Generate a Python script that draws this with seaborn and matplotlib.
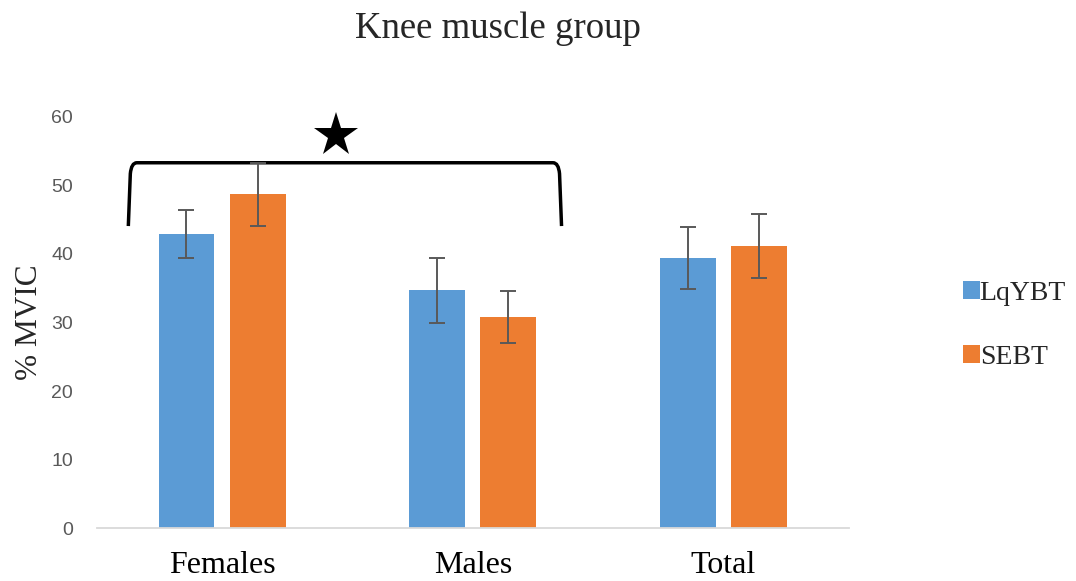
import numpy as np
import pandas as pd
import matplotlib
matplotlib.use("Agg")
import matplotlib.pyplot as plt
from matplotlib.path import Path
from matplotlib.patches import PathPatch, Patch
import seaborn as sns

# data
groups = ["Females", "Males", "Total"]
tests = ["LqYBT", "SEBT"]
lqybt_mean = [42.9, 34.7, 39.4]
lqybt_err = [3.5, 4.7, 4.5]
sebt_mean = [48.7, 30.8, 41.1]
sebt_err = [4.6, 3.85, 4.65]
yticks = [0, 10, 20, 30, 40, 50, 60]

colors = {"LqYBT": "#5B9BD5", "SEBT": "#ED7D31"}
serif = ["Liberation Serif", "DejaVu Serif"]

df = pd.DataFrame({
    "group": groups * 2,
    "test": ["LqYBT"] * 3 + ["SEBT"] * 3,
    "mvic": lqybt_mean + sebt_mean,
    "err": lqybt_err + sebt_err,
})

sns.set_style("white")
plt.rcParams["font.family"] = ["Liberation Sans", "DejaVu Sans"]

fig = plt.figure(figsize=(10.76, 5.81), dpi=100)
ax = fig.add_axes([0.0899, 0.0904, 0.699, 0.709])

sns.barplot(data=df, x="group", y="mvic", hue="test", order=groups,
            hue_order=tests, palette=colors, saturation=1, width=0.568,
            gap=0.215, errorbar=None, linewidth=0, legend=False, ax=ax)

# error bars at bar centres
for i, t in enumerate(tests):
    sub = df[df["test"] == t].set_index("group").loc[groups]
    xs = [p.get_x() + p.get_width() / 2 for p in ax.containers[i]]
    ax.errorbar(xs, sub["mvic"], yerr=sub["err"], fmt="none",
                ecolor="#595959", elinewidth=1.4, capsize=5.5, capthick=1.4,
                zorder=3)

ax.set_xlim(-0.5, 2.5)
ax.set_ylim(0, 60)
ax.set_yticks(yticks)
ax.tick_params(axis="y", labelsize=14, labelcolor="#595959", length=0, pad=17)
ax.tick_params(axis="x", length=0, pad=16)
for lab in ax.get_xticklabels():
    lab.set_fontfamily(serif)
    lab.set_fontsize(23)
    lab.set_color("black")
ax.set_xlabel("")
ax.set_ylabel("% MVIC", fontfamily=serif, fontsize=22.5, va="center")
ax.yaxis.set_label_coords(-0.089, 0.5)

for s in ["top", "right", "left"]:
    ax.spines[s].set_visible(False)
ax.spines["bottom"].set_color("#d9d9d9")
ax.spines["bottom"].set_linewidth(1.3)

# significance bracket between Females and Males
x0, x1, yt, yb = -0.374, 1.354, 53.27, 44.05
rx, ry = 0.034, 1.6
verts = [(x0, yb), (x0 + 0.008, yt - ry), (x0 + 0.012, yt), (x0 + rx, yt),
         (x1 - rx, yt), (x1 - 0.012, yt), (x1 - 0.008, yt - ry), (x1, yb)]
codes = [Path.MOVETO, Path.LINETO, Path.CURVE3, Path.CURVE3,
         Path.LINETO, Path.CURVE3, Path.CURVE3, Path.LINETO]
ax.add_patch(PathPatch(Path(verts, codes), fill=False, lw=2.5,
                       edgecolor="black", clip_on=False, capstyle="butt"))
ax.plot([0.453], [57.3], marker="*", markersize=33, color="black",
        markeredgewidth=0, clip_on=False)

fig.suptitle("Knee muscle group", x=498 / 1076, y=1 - 29 / 581, va="center",
             fontfamily=serif, fontsize=26.5)

handles = [Patch(facecolor=colors[t], edgecolor="none") for t in tests]
fig.legend(handles, tests, loc="center left", bbox_to_anchor=(0.895, 0.44),
           frameon=False, prop={"family": serif, "size": 20},
           handlelength=0.6, handleheight=0.6, handletextpad=0.0,
           labelspacing=1.4, borderpad=0, borderaxespad=0)

fig.savefig("out.png", dpi=100)
